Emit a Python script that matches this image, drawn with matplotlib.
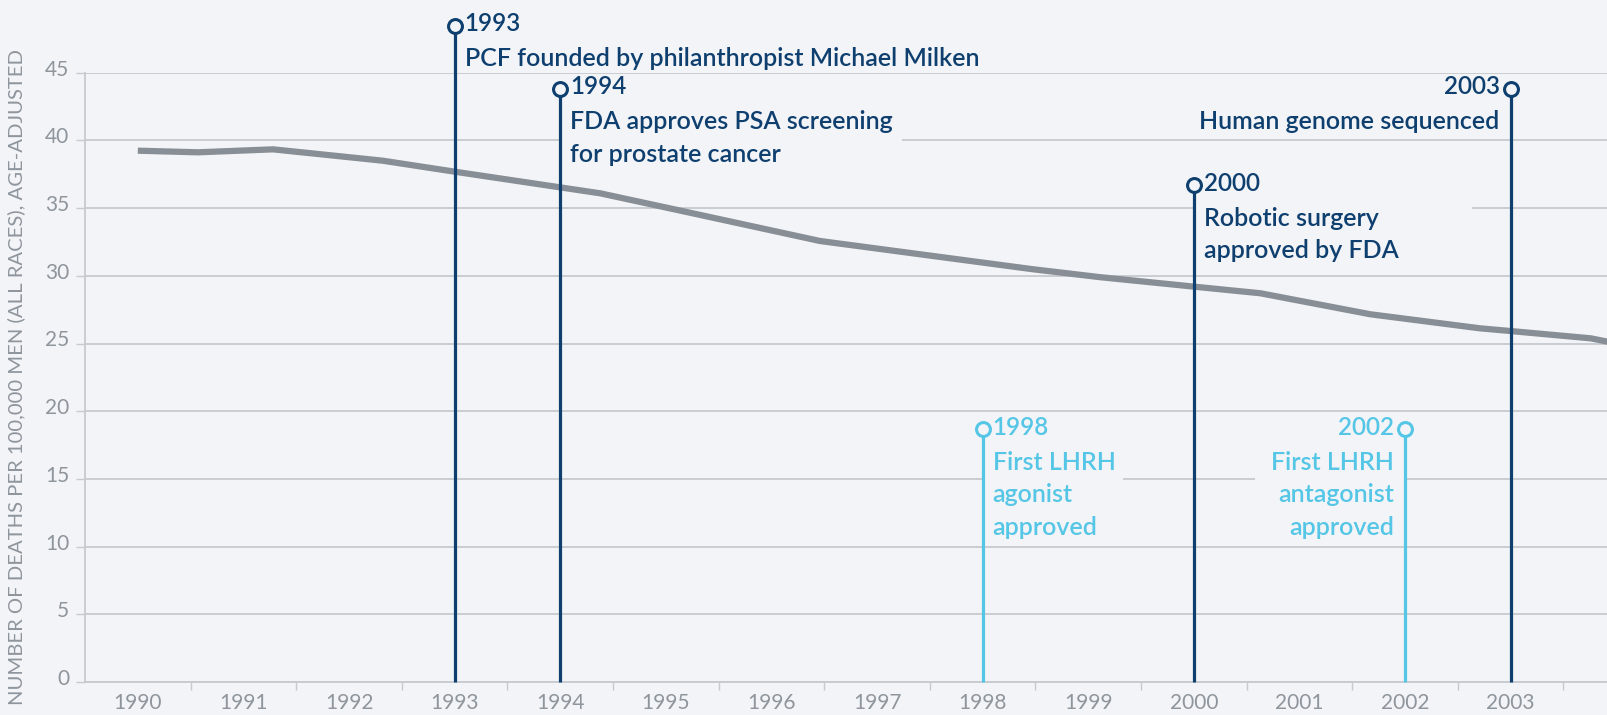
import matplotlib
matplotlib.use("Agg")
import matplotlib.pyplot as plt
from matplotlib.patches import Rectangle
from matplotlib.transforms import ScaledTranslation

# ---------------- data ----------------
years = [1990.0, 1990.57, 1991.28, 1992.32, 1993.0, 1994.38, 1995.11, 1996.46,
         1998.48, 1999.11, 2000.0, 2000.63, 2001.67, 2002.71, 2003.0, 2003.76, 2003.92]
rates = [39.24, 39.12, 39.34, 38.50, 37.69, 36.09, 34.86, 32.57,
         30.48, 29.90, 29.20, 28.71, 27.16, 26.12, 25.92, 25.38, 25.13]

tick_years = list(range(1990, 2004))
y_ticks = [0, 5, 10, 15, 20, 25, 30, 35, 40, 45]

event_years = [1993, 1994, 2000, 2003, 1998, 2002]
event_tops = [48.45, 43.8, 36.68, 43.8, 18.68, 18.68]
event_titles = ["1993", "1994", "2000", "2003", "1998", "2002"]
event_texts = ["PCF founded by philanthropist Michael Milken",
               "FDA approves PSA screening\nfor prostate cancer",
               "Robotic surgery\napproved by FDA",
               "Human genome sequenced",
               "First LHRH\nagonist\napproved",
               "First LHRH\nantagonist\napproved"]
event_kinds = ["dark", "dark", "dark", "dark", "light", "light"]
event_sides = ["right", "right", "right", "left", "right", "left"]

y_label = "NUMBER OF DEATHS PER 100,000 MEN (ALL RACES), AGE-ADJUSTED"

# ---------------- style ----------------
BG = "#f2f4f7"
GRID = "#c6cad0"
LINE = "#878e96"
TICKTXT = "#8f959d"
DARK = "#0e3f6f"
LIGHT = "#55c6e6"
plt.rcParams['font.family'] = ['Lato', 'DejaVu Sans']

W, H = 1607, 715
fig = plt.figure(figsize=(W / 100, H / 100), dpi=100, facecolor=BG)
ax = fig.add_axes([85 / W, 33 / H, 1 - 85 / W, (682 - 72.7) / H])
ax.set_facecolor(BG)
ax.set_xlim(1989.5, 2003.912)
ax.set_ylim(0, 45)

# grid
ax.set_yticks(y_ticks)
ax.yaxis.grid(True, color=GRID, lw=1.3, zorder=0.5)
ax.set_axisbelow(True)
for s in ["top", "right"]:
    ax.spines[s].set_visible(False)
for s in ["left", "bottom"]:
    ax.spines[s].set_color(GRID)
    ax.spines[s].set_linewidth(1.3)

ax.tick_params(axis='y', length=6.5, width=1.0, color=GRID, labelcolor=TICKTXT,
               labelsize=15, pad=5)
ax.set_yticklabels([str(v) for v in y_ticks])
off = ScaledTranslation(0, 5 / 100, fig.dpi_scale_trans)
for lab in ax.get_yticklabels():
    lab.set_transform(lab.get_transform() + off)

# x ticks: marks at half years, labels at years
ax.set_xticks([y + 0.5 for y in tick_years])
ax.set_xticklabels([])
ax.tick_params(axis='x', which='major', length=6, width=1.0, color=GRID, direction='out')
ax.set_xticks(tick_years, minor=True)
ax.set_xticklabels([str(y) for y in tick_years], minor=True)
ax.tick_params(axis='x', which='minor', length=0, labelcolor=TICKTXT, labelsize=15, pad=8)

ax.set_ylabel(y_label, color=TICKTXT, fontsize=14.6)
ax.yaxis.set_label_coords(-0.0395, 0.5)

# data line
ax.plot(years, rates, color=LINE, lw=4.5, solid_capstyle='butt', zorder=2)

# background boxes hiding gridlines behind annotations (layout only)
box_specs = {1994: (1994.0, 1997.24, 38.5, 41.5),
             2000: (2000.0, 2002.63, 34.0, 36.0),
             1998: (1998.0, 1999.33, 14.0, 16.0),
             2002: (2000.58, 2002.0, 14.0, 16.0)}
for yr, (x0, x1, y0, y1) in box_specs.items():
    ax.add_patch(Rectangle((x0, y0), x1 - x0, y1 - y0, facecolor=BG,
                           edgecolor='none', zorder=1))

# events
for yr, top, title, txt, kind, side in zip(event_years, event_tops, event_titles,
                                           event_texts, event_kinds, event_sides):
    col = DARK if kind == "dark" else LIGHT
    ax.plot([yr, yr], [0, top], color=col, lw=2.3, zorder=3, clip_on=False,
            solid_capstyle='butt')
    ax.plot([yr], [top], marker='o', ms=10, mfc=BG, mec=col, mew=2.2,
            zorder=4, clip_on=False)
    dx = 10 if side == "right" else -11
    ha = 'left' if side == "right" else 'right'
    ax.annotate(title, xy=(yr, top), xytext=(dx, 2), textcoords='offset pixels',
                ha=ha, va='center', color=col, fontsize=17.5, fontweight='semibold',
                zorder=5, annotation_clip=False)
    for i, line in enumerate(txt.split("\n")):
        ax.annotate(line, xy=(yr, top), xytext=(dx, -33 - 32.5 * i),
                    textcoords='offset pixels', ha=ha, va='center', color=col,
                    fontsize=18, fontweight='semibold', zorder=5,
                    annotation_clip=False)

fig.savefig("out.png", dpi=100, facecolor=BG)
